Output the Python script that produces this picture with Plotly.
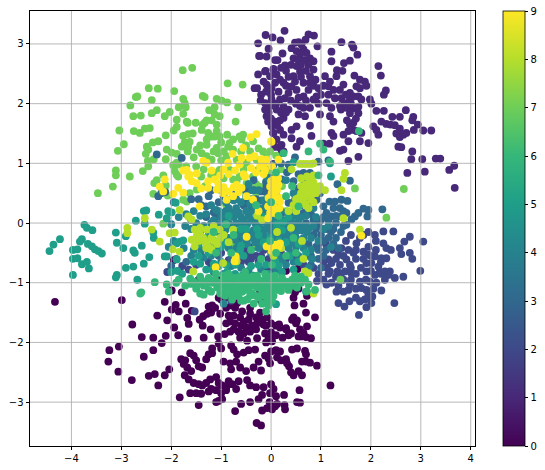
import plotly.graph_objects as go

X_TICKS = [-4, -3, -2, -1, 0, 1, 2, 3, 4]
Y_TICKS = [-3, -2, -1, 0, 1, 2, 3]
C_TICKS = [0, 1, 2, 3, 4, 5, 6, 7, 8, 9]
VIRIDIS10 = ["#440154", "#482878", "#3e4989", "#31688e", "#26828e", "#1f9e89", "#35b779", "#6ece58", "#b5de2b", "#fde725"]

CLASS_0 = [(-4.33,-1.32),(-2.99,-1.29),(-2.78,-1.7),(-2.59,-1.91),(-2.36,-1.92),(-2.11,-1.89),(-2.19,-2.01),(-3.24,-2.13),(-3.05,-2.07),(-3.26,-2.32),(-2.55,-2.24),(-2.36,-2.13),(-3.06,-2.49),(-2.79,-2.63),(-2.45,-2.56),(-2.33,-2.53),(-2.26,-2.72),(-2.13,-2.55),(-2.04,-2.45),(-1.83,-2.92),(-1.99,-1.13),(-1.79,-1.16),(-2.13,-1.32),(-1.91,-1.37),(-1.71,-1.35),(-2.28,-1.55),(-2.08,-1.63),(-1.99,-1.45),(-1.85,-1.48),(-1.68,-1.59),(-1.65,-1.69),(-1.94,-1.75),(-1.86,-1.88),(-1.67,-1.94),(-1.59,-1.47),(-1.43,-1.62),(-1.36,-1.56),(-1.37,-1.72),(-1.21,-1.78),(-1.35,-1.92),(-1.06,-1.9),(-0.93,-1.86),
(-1.25,-1.4),(-1.18,-1.38),(-1.12,-1.42),(-1.2,-1.5),(-1.28,-1.52),(-1.02,-1.52),(-1.0,-1.28),(-0.9,-1.24),(-0.9,-1.42),(-0.8,-1.38),(-0.72,-1.42),(-0.68,-1.34),(-0.85,-1.55),(-0.82,-1.65),(-0.9,-1.68),(-0.75,-1.55),(-0.72,-1.68),(-0.62,-1.58),(-0.6,-1.72),(-0.55,-1.65),(-0.5,-1.75),(-0.45,-1.62),(-0.42,-1.52),(-0.38,-1.72),(-0.3,-1.58),(-0.28,-1.68),(-0.22,-1.5),(-0.18,-1.62),(-0.15,-1.7),(-0.08,-1.58),(-0.65,-1.82),(-0.55,-1.85),(-0.42,-1.82),(-0.3,-1.78),(-0.75,-1.78),(-0.82,-1.82),(-0.12,-1.85),(-0.05,-1.92),(0.0,-1.83),(0.1,-1.72),(0.18,-1.75),(0.3,-1.78),(0.42,-1.62),(0.5,-1.68),(0.58,-1.78),(0.72,-1.73),(-0.62,-1.92),(-0.48,-1.97),(-0.28,-1.93),(-0.1,-2.0),(0.02,-1.98),(-0.02,-1.9),
(-1.62,-2.18),(-1.55,-2.22),(-1.5,-2.3),(-1.45,-2.4),(-1.38,-2.42),(-1.72,-2.3),(-1.8,-2.28),(-1.75,-2.36),(-1.68,-2.42),(-1.6,-2.48),(-1.3,-2.28),(-1.25,-2.2),(-1.18,-2.18),(-1.18,-2.1),(-1.05,-2.02),(-1.0,-2.1),(-0.8,-2.05),(-0.75,-2.12),(-0.68,-2.2),(-0.55,-2.17),(-0.45,-2.13),(-0.32,-2.12),(-0.12,-2.22),(-0.95,-2.32),(-0.82,-2.35),(-0.8,-2.45),(-0.7,-2.32),(-0.62,-2.42),(-0.5,-2.48),(-0.35,-2.42),(-0.25,-2.32),(-0.2,-2.47),(-0.05,-2.27),(-0.02,-2.35),(0.1,-2.13),(0.12,-2.25),(0.2,-2.3),(0.18,-2.15),(0.3,-2.28),(0.42,-2.12),(0.52,-2.1),(0.68,-2.14),(0.7,-2.2),(0.7,-2.32),(0.78,-2.34),(0.92,-2.39),(0.0,-2.15),(0.32,-2.35),(0.36,-2.4),(0.4,-2.5),(0.45,-2.55),(0.55,-2.48),(0.62,-2.55),(0.62,-2.32),
(-1.73,-2.55),(-1.65,-2.62),(-1.55,-2.68),(-1.45,-2.7),(-1.38,-2.72),(-1.3,-2.68),(-1.22,-2.62),(-1.1,-2.58),(-1.05,-2.68),(-0.98,-2.72),(-0.9,-2.75),(-0.85,-2.65),(-0.78,-2.7),(-0.65,-2.65),(-0.48,-2.63),(-0.42,-2.72),(-0.3,-2.75),(-1.2,-2.78),(-1.1,-2.8),(-1.0,-2.85),(-0.9,-2.8),(-0.7,-2.78),(-1.62,-2.85),(-1.5,-2.85),(-1.4,-2.86),(-1.25,-2.82),(-1.05,-2.98),(-0.98,-2.95),(-1.1,-3.0),(-0.42,-3.0),(-0.25,-2.95),(-0.18,-2.88),(-0.02,-2.85),(0.0,-2.7),(0.05,-2.78),(0.1,-2.9),(-0.15,-2.75),(-1.45,-3.05),(-0.6,-3.03),(-0.72,-3.15),(-0.18,-3.14),(-0.08,-3.1),(0.02,-3.12),(-0.03,-3.0),(0.08,-3.07),(0.12,-3.03),(0.27,-3.05),(0.28,-3.12),(0.52,-3.0),(0.58,-3.01),(0.57,-2.8),(1.19,-2.72),(0.26,-2.88),(-0.29,-3.35),(-0.2,-3.39),
(0.0,-1.68),(0.16,-1.7),(0.3,-1.76),(0.45,-1.58),(0.52,-1.63),(-0.1,-1.72),(0.35,-1.88),(0.1,-1.88),(0.23,-1.92),(0.55,-1.9),(0.4,-1.85),(0.6,-1.9),(0.7,-1.91),(0.8,-1.93),(0.65,-1.84),(0.72,-1.22),(0.55,-1.1),(0.65,-1.35),(0.48,-1.16),(0.45,-1.25),(0.47,-1.38),(0.7,-1.5),(0.88,-1.58),(0.53,-0.77),(0.3,-0.8),(0.02,-0.95),(-0.2,-1.3),(-0.25,-1.2),(-0.3,-0.98),(-1.05,-1.25),(-0.58,-1.48),(-0.42,-1.42),(-1.1,-0.93),(-1.45,-0.95),(-1.95,-0.62)]

CLASS_1 = [(0.27,3.22),(-0.11,3.15),(0.03,3.11),(0.19,3.06),(0.75,3.16),(0.86,3.14),(0.69,3.07),(1.41,3.03),(1.62,2.99),(1.65,2.94),(0.93,2.96),(1.21,2.87),(1.73,2.82),(1.21,2.71),(1.58,2.72),(1.46,2.68),(2.15,2.63),(2.2,2.47),(1.32,2.56),(1.43,2.55),(1.31,2.46),(1.67,2.47),(1.78,2.4),(1.88,2.37),(1.91,2.3),(2.3,2.22),(2.26,2.15),(1.98,2.07),(2.01,2.0),(2.11,1.88),(2.26,1.88),(2.7,1.89),(2.43,1.78),(2.58,1.78),(2.85,1.78),(2.83,1.72),(2.21,1.7),(2.31,1.66),(2.39,1.65),(2.48,1.64),(2.94,1.65),(2.86,1.56),(3.05,1.55),(3.21,1.55),(2.58,1.58),(2.71,1.51),(2.51,1.5),(2.58,1.44),(2.65,1.48),(2.55,1.28),(2.61,1.27),(2.83,1.2),(2.81,1.07),(3.03,1.07),(3.3,1.08),(3.39,1.08),(3.67,0.96),(3.57,0.89),(2.73,0.84),(3.08,0.86),(3.68,0.59),
(-0.26,3.01),(-0.24,2.8),(-0.26,2.49),(-0.11,2.55),(0.05,2.58),(-0.33,2.26),(-0.28,2.26),(-0.21,2.05),
(0.41,2.93),(0.48,3.02),(0.55,3.03),(0.61,2.99),(0.51,2.88),(0.65,2.91),(0.58,2.82),(0.71,2.85),(0.45,2.76),(0.55,2.73),(0.68,2.73),(0.78,2.76),(0.85,2.71),(0.75,2.65),(-0.05,2.92),(-0.22,2.8),(-0.09,2.79),(0.08,2.73),(0.23,2.84),(0.13,2.73),(0.28,2.64),(-0.12,2.54),(0.05,2.57),(-0.02,2.46),(0.11,2.49),(0.18,2.4),(0.25,2.35),(-0.15,2.37),(-0.09,2.32),(0.08,2.35),(0.01,2.26),(0.51,2.63),(0.58,2.54),(0.45,2.46),(0.48,2.37),(0.41,2.29),(0.51,2.23),(0.35,2.18),(0.28,2.09),(0.18,2.07),(0.85,2.57),(0.78,2.46),(0.89,2.4),(0.78,2.35),(0.95,2.26),(0.75,2.23),(0.91,2.12),(0.85,2.07),(0.65,2.12),
(1.08,2.46),(1.18,2.37),(1.15,2.29),(1.25,2.23),(1.38,2.23),(1.45,2.32),(1.11,2.01),(1.28,2.09),(1.41,2.09),(1.48,2.01),(1.58,2.07),(1.65,2.12),(1.75,2.12),(1.81,2.07),(1.71,2.29),(1.78,2.26),(1.58,2.18),(1.65,1.92),(1.58,1.84),(1.75,1.84),(1.21,1.93),(1.38,1.96),(1.51,1.93),(1.18,1.79),(1.25,1.7),(0.98,1.82),(0.58,1.96),(0.65,1.93),(0.78,1.93),(0.55,1.82),(0.68,1.79),(0.41,1.56),(0.51,1.62),(0.78,1.63),(0.81,1.46),(1.58,1.65),(1.65,1.68),(1.55,1.54),(1.45,1.48),(1.65,1.56),(1.71,1.54),(1.81,1.51),(1.21,1.51),(1.25,1.46),(2.05,1.62),(2.15,1.48),(2.11,1.56),(1.05,1.33),(1.17,1.33),(0.58,1.37),(0.51,1.28),(1.55,1.37),(1.45,1.23),(1.78,1.37),(1.95,1.34),(1.75,1.11),(1.55,1.04),(1.38,1.21),
(0.08,1.28),(0.18,1.26),(0.21,1.17),(0.25,1.2),(0.41,1.42),(0.25,1.48),(0.05,1.51),(0.18,1.56),(0.08,1.7),(0.25,1.76),(-0.02,1.96),(0.11,1.9),(-0.12,2.01),(0.01,2.07),(-0.09,1.79),(-0.06,1.7),(0.01,1.62),(0.04,1.51),(0.11,1.4),(0.07,1.28),(0.21,1.31),(0.05,0.99),(0.15,2.2),(0.0,2.15),(-0.1,2.2),(0.3,2.3),(-0.2,2.15),(0.1,2.0),(0.25,1.95),(0.35,1.9),(-0.05,1.85),(0.2,1.85),(0.0,1.75),(-0.12,1.9),(0.3,1.85),(0.4,2.05),(0.5,2.0),(0.55,2.1),(0.7,2.05),(0.95,2.0),(1.0,2.15),(1.05,2.3),(0.85,2.3),(0.65,2.35),(0.6,2.45),(0.35,2.45),(0.3,2.55),(0.2,2.6),(0.4,2.65),(0.6,2.65),(0.7,2.55),(1.5,2.15),(1.4,1.9),(1.6,2.0),(1.75,1.95),(0.12,1.64),(0.18,1.72),(1.52,1.72),(1.7,1.75),(1.15,2.15),(0.93,0.53)]

CLASS_2 = [(3.05,-0.31),(2.78,-0.23),(2.67,-0.31),(2.58,-0.42),(2.61,-0.52),(2.78,-0.5),(2.83,-0.6),(2.99,-0.8),(2.65,-0.9),(2.48,-0.92),(2.38,-0.81),(2.3,-0.85),(2.18,-0.82),(2.47,-1.34),(2.21,-1.13),(1.76,-1.54),(1.91,-1.41),(1.47,-1.4),(1.35,-1.34),(1.57,-1.31),(1.78,-1.31),(1.98,-1.26),(2.03,-1.23),(2.01,-1.34),(1.88,-1.28),(1.18,-0.81),(1.33,-0.81),(2.45,-0.14),(2.25,-0.14),(2.08,-0.2),(2.25,-0.34),(2.31,-0.42),(2.4,-0.45),
(1.78,-0.25),(1.71,-0.34),(1.85,-0.48),(1.95,-0.53),(2.08,-0.56),(2.21,-0.59),(2.31,-0.59),(1.91,-0.67),(2.01,-0.67),(2.15,-0.73),(1.91,-0.81),(2.08,-0.87),(2.28,-0.81),(2.35,-0.87),(2.28,-0.95),(2.11,-1.0),(1.98,-0.98),(1.78,-0.98),(1.81,-1.09),(1.91,-1.12),(1.95,-1.2),(1.55,-1.12),(1.45,-1.15),(1.31,-1.15),(1.11,-1.03),(1.21,-1.0),(1.58,-1.03),(1.38,-0.7),(1.51,-0.61),(1.58,-0.7),(1.48,-0.81),(1.61,-0.84),(1.35,-0.53),(1.25,-0.45),(1.41,-0.42),(1.15,-0.61),(1.21,-0.67),(1.7,-0.6),(1.95,-0.4),(2.1,-0.3),(1.6,-0.95),(1.45,-0.95),(1.3,-0.9),(1.7,-1.1),(2.0,-0.8),(2.2,-0.85),(2.0,-0.55),(1.55,-0.45),(1.65,-0.5),(1.45,-0.55),(1.5,-0.3),(1.6,-0.2),(1.85,-0.2),(1.95,-0.15),(2.2,-0.65),(1.8,-0.75),(1.9,-0.95),(1.05,-0.95),(0.92,-0.97),(0.95,-0.85),(1.12,-0.75),
(-0.42,-0.53),(-0.55,-0.5),(-0.45,-0.65),(-0.3,-0.55),(-0.25,-0.65),(-0.5,-0.35),(-0.35,-0.4),(-0.15,-0.45),(-0.6,-0.65),(-1.65,-0.78),(-1.5,-0.7),(-1.25,-0.65),(-0.8,-1.3),(-1.53,-1.48),(0.2,-0.5),(0.05,-0.7),(0.3,-0.6),(-0.05,-0.6),(0.4,-0.3),(-2.08,-0.82),(-1.85,-0.8),(-1.78,-0.72),(-0.35,-0.22),(0.05,-0.22),(0.6,-0.12),(0.5,-0.55),(0.75,-0.55),(0.65,-0.7),
(-0.4,-0.6),(-0.5,-0.6),(-0.2,-0.55),(-0.05,-0.42),(-0.48,-0.45),(-0.62,-0.5),(-0.7,-0.35),(-1.0,-0.5),(-1.4,-0.55),(-1.2,-0.7),(-0.85,-0.62),(-0.1,-0.78),(0.0,-0.82),(0.85,-0.75),(1.05,-0.65),(1.1,-0.35),(0.95,-0.35),(1.15,-0.85),(1.3,-0.6),(1.7,-0.85),(1.7,-0.45),(1.85,-0.6),(2.1,-0.45),(1.35,-1.05),(1.6,-0.75),(1.4,-0.85),(2.05,-1.1),(1.7,-1.25)]

CLASS_3 = [(2.23,0.23),(1.93,0.11),(1.95,0.22),(1.85,0.24),(1.75,0.17),(1.68,0.11),(1.33,0.65),(1.58,0.71),(1.17,0.36),(1.28,0.36),(1.41,0.39),(1.53,0.37),(1.25,0.25),(1.38,0.25),(1.51,0.17),(1.61,0.06),(1.38,0.11),(1.21,0.11),(1.11,0.17),(1.51,-0.03),(1.05,0.28),(0.91,0.39),(0.98,0.5),(0.78,0.28),(0.65,0.17),(0.45,0.17),(0.65,0.84),(0.78,0.84),(0.65,0.73),(0.45,0.7),(0.38,0.89),(0.58,0.5),(0.48,0.39),(0.35,0.34),(0.21,0.17),(0.05,0.7),(0.21,0.73),(-0.02,0.75),(-0.09,0.61),(-0.19,0.53),(-0.02,0.45),(0.11,0.28),(1.3,0.0),(1.1,-0.1),(1.0,-0.2),(0.9,-0.1),(0.7,0.0),(0.85,0.05),(1.0,0.05),(1.2,-0.15),(1.05,-0.3),(0.9,-0.4),(0.75,-0.35),(1.1,-0.45),(0.95,-0.6),(0.8,-0.7),(1.0,-0.75),(1.45,-0.05),(1.3,-0.25),(-2.29,1.15),(-1.79,1.09),(-2.26,0.45),(-1.95,0.35),(-1.6,0.4),(-1.45,0.4),(-1.4,0.3),(-1.2,0.55),(-1.0,0.55),(-0.8,0.4),(-0.9,0.2),(-0.7,0.5),(-0.5,0.55),(-0.3,0.4),(-0.4,0.25),(-0.1,0.3),(-1.1,0.1),(-1.3,0.1),(-1.6,0.05),(-1.9,-0.6),(-1.7,-0.65),(-2.0,-0.72),(-1.15,-0.3),(-1.05,-0.55),(-0.8,-0.6),(-0.65,-0.28),(0.2,1.0),(0.35,0.98),(0.05,0.98),(0.48,1.1),(0.95,1.03),(1.15,1.05),(0.55,0.58),(-0.1,0.68),(-0.35,0.72),(-0.55,0.3),(-1.25,0.45),(-1.05,0.35),(-2.12,0.52),(-2.2,0.5),
(1.15,0.05),(1.3,0.12),(1.45,0.2),(1.05,0.1),(0.95,-0.02),(0.8,0.15),(0.6,0.3),(0.7,0.42),(1.25,-0.1),(1.4,-0.15),(1.15,-0.25),(0.95,-0.45),(0.8,-0.55),(1.05,-0.55),(0.85,-0.2),(0.5,-0.1),(-0.65,0.58),(-0.35,0.55),(-0.5,0.38),(-0.2,0.38),(0.12,0.72),(0.32,0.85),(0.55,0.82),(-1.3,0.28),(-1.15,0.18),(-0.95,0.45),(-0.65,0.15),(-0.1,0.52),(1.25,-0.35),(1.35,-0.42)]

CLASS_4 = [(-0.9,0.35),(-0.85,0.25),(-0.7,0.25),(-0.6,0.35),(-0.4,0.4),(-0.25,0.55),(-0.2,0.25),(-0.3,0.1),(-0.45,0.12),(-0.6,0.1),(-0.75,0.1),(-0.92,0.05),(-1.05,-0.02),(-1.2,0.0),(-1.35,-0.05),(-1.5,0.0),(-1.42,-0.15),(-1.25,-0.15),(-1.08,-0.15),(-0.92,-0.12),(-0.78,-0.05),(-0.62,-0.02),(-0.48,-0.02),(-0.32,0.0),(-0.18,0.02),(-0.05,0.1),(0.1,0.08),(0.25,0.05),(0.4,0.05),(0.55,0.02),(0.7,-0.05),(0.85,-0.05),(-0.02,-0.05),(0.12,-0.1),(0.28,-0.08),(0.42,-0.1),(0.58,-0.12),(0.72,-0.15),(-0.2,-0.12),(-0.35,-0.12),(-0.52,-0.14),(-0.68,-0.15),(-0.85,-0.25),(-1.0,-0.28),(-0.72,-0.28),(-0.55,-0.25),(-0.4,-0.25),(-0.25,-0.27),(-0.08,-0.25),(0.08,-0.25),(0.22,-0.24),(0.35,-0.22),(0.5,-0.25),(0.65,-0.25),(0.8,-0.25),(0.95,-0.3),(1.05,-0.1),(1.15,-0.05),(0.9,0.1),(0.7,0.12),(0.5,0.12),(-0.1,-0.4),(0.05,-0.38),(0.2,-0.38),(0.35,-0.42),(0.5,-0.4),(0.65,-0.42),(0.8,-0.45),(-0.25,-0.42),(-0.7,-0.42),(-0.85,-0.42),(-1.05,-0.42),(-1.25,-0.4),(-1.4,-0.45),(-1.55,-0.45),(-1.35,-0.58),(-1.2,-0.55),(-1.0,-0.65),(-0.8,-0.72),(-0.6,-0.75),(-0.45,-0.8),(-0.2,-0.78),(0.0,-0.5),(0.15,-0.55),(0.1,-0.8),(0.3,-0.7),(0.45,-0.65),(0.82,-0.6),(0.75,-0.75),(-0.5,0.45),(-0.62,0.55),(-0.15,0.18),(-0.05,0.22),(0.02,0.05),(0.18,0.22),(0.32,0.18),(-1.2,0.3),(-1.05,0.2),(-1.55,0.2),(-1.7,0.15),(-1.85,0.1),(-1.72,-0.05),(-1.6,-0.1),(-2.0,-0.02),(-1.75,-0.42),(-1.6,-0.55),(-1.95,-0.3),(-2.05,-0.4),(0.0,0.6),(-0.05,0.75),(0.45,0.5),(0.3,0.72),(-0.75,0.38),(-0.38,0.55),(-0.92,-0.1),(-0.45,0.65),(1.2,-0.4),(0.85,0.25),(-0.95,-0.85),(-1.15,-0.82),(-0.95,-1.35),
(-1.15,0.05),(-1.0,0.1),(-0.85,0.0),(-0.7,0.0),(-0.55,0.05),(-0.4,0.05),(-0.25,-0.05),(-0.12,-0.1),(0.05,0.0),(0.18,-0.02),(0.32,-0.02),(0.48,-0.02),(0.62,-0.05),(-1.0,-0.1),(-0.75,-0.12),(-0.6,-0.2),(-0.45,-0.18),(-0.3,-0.18),(-0.15,-0.2),(0.0,-0.15),(0.15,-0.18),(0.3,-0.15),(0.48,-0.18),(-0.65,0.18),(-0.5,0.2),(-0.35,0.2),(-0.8,0.18),(-0.95,0.18),(-1.1,0.22),(-0.9,-0.35),(-0.65,-0.35),(-0.48,-0.35),(-0.32,-0.32),(-0.18,-0.35),(0.1,-0.32),(0.25,-0.3),(0.4,-0.33),(0.6,-0.32),(0.75,-0.1),(0.6,0.1),(-0.2,0.12),(0.4,-0.5),(0.55,-0.55),(0.22,-0.62),(-1.3,0.15),(-1.42,0.12),(-0.1,0.02),(-0.42,0.32),(-0.7,0.4),(-0.15,0.38)]

CLASS_5 = [(-4.44,-0.47),(-4.36,-0.36),(-4.23,-0.27),(-3.97,-0.45),(-3.88,-0.44),(-3.97,-0.6),(-3.88,-0.59),(-3.97,-0.87),(-3.79,-0.27),(-3.83,-0.31),(-3.67,-0.35),(-3.59,-0.39),(-3.53,-0.44),(-3.46,-0.47),(-3.39,-0.51),(-3.79,-0.69),(-3.69,-0.65),(-3.65,-0.76),(-3.09,-0.87),(-3.11,-0.91),(-3.09,-0.33),(-2.96,-0.42),(-2.76,-0.46),(-2.73,-0.5),(-2.59,-0.38),(-2.44,-0.57),(-2.55,-0.68),(-2.76,-0.73),(-2.91,-0.75),(-2.68,-0.95),(-3.11,-0.16),(-2.91,-0.22),(-2.36,-0.16),(-2.35,-0.25),(-3.74,-0.03),(-3.69,-0.08),(-3.58,-0.12),(-2.71,0.04),(-2.53,-0.01),(-2.55,0.2),(-2.5,0.21),(-2.25,0.14),(-2.09,0.08),(-2.06,0.2),(-1.99,0.18),(-1.91,0.34),(-2.09,-0.56),(-2.13,-0.56),(-1.89,-0.61),(-1.89,-0.34),(-1.83,-0.31),(-1.76,-0.29),(-2.0,-0.82),(-1.88,-0.8),(-1.78,-0.85),(-1.55,-0.65),(-1.42,-0.68),(-1.3,-0.78),(-1.18,-0.78),(-1.05,-0.72),(-0.88,-0.82),(-0.72,-0.85),(-0.58,-0.88),(-0.35,-0.88),(-0.1,-0.7),(0.08,-0.62),(0.22,-0.82),(0.45,-0.78),(-0.55,-0.55),(-0.7,-0.55),(-1.1,-0.35),(-1.3,-0.25),(-0.92,-0.32),(-0.6,-0.38),(-0.15,-0.32),(0.15,-0.3),(0.3,-0.32),(0.55,-0.35),(0.7,-0.5),(0.25,0.02),(-0.28,-0.1),(-0.6,-0.1),(0.12,-0.02),(1.18,1.0),(1.2,0.78),(0.45,1.02),(0.1,-1.36),(0.7,-1.15),
(-1.45,-0.55),(-1.15,-0.68),(-0.9,-0.7),(-0.72,-0.7),(-0.4,-0.72),(-0.25,-0.7),(-0.05,-0.85),(0.15,-0.72),(0.38,-0.55),(0.55,-0.65),(-0.62,-0.45),(-0.25,-0.2),(-0.02,-0.25),(0.22,-0.12),(-1.0,-0.4),(-1.25,-0.5),(-1.45,-0.35),(-0.5,-0.1),(-0.85,0.12),(-0.15,0.1),(0.35,0.1)]

CLASS_6 = [(-2.6,-1.16),(-2.62,-1.18),(-2.33,-0.99),(-2.09,-1.03),(-2.05,-1.15),(-1.9,-1.0),(-1.85,-0.95),(-1.72,-1.05),(-1.6,-1.02),(-1.5,-1.1),(-1.42,-1.18),(-1.35,-1.05),(-1.25,-1.12),(-1.18,-1.0),(-1.08,-1.08),(-1.02,-1.18),(-0.98,-0.98),(-0.92,-1.08),(-0.88,-0.95),(-0.8,-1.02),(-0.8,-1.18),(-0.72,-0.98),(-0.7,-1.1),(-0.65,-1.22),(-0.6,-1.02),(-0.55,-0.95),(-0.5,-1.12),(-0.48,-1.28),(-0.42,-1.02),(-0.38,-1.18),(-0.32,-0.95),(-0.28,-1.08),(-0.25,-1.25),(-0.2,-1.0),(-0.18,-1.15),(-0.12,-0.95),(-0.1,-1.08),(-0.08,-1.25),(-0.05,-1.38),(-0.02,-1.02),(0.02,-1.12),(-0.6,-1.3),(-0.35,-1.35),(-0.1,-1.48),(-1.42,-0.9),(-1.25,-0.92),(-1.1,-0.85),(-0.95,-0.88),(-0.78,-0.92),(-0.62,-0.9),(-0.45,-0.92),(-0.28,-0.88),(-0.12,-0.85),(0.0,-0.9),(-0.78,-1.28),(-1.55,-0.98),(-0.72,-1.2),(-0.92,-1.22),
(0.08,-0.88),(0.12,-0.98),(0.1,-1.08),(0.18,-1.02),(0.22,-0.92),(0.3,-0.98),(0.32,-1.06),(0.42,-0.95),(0.45,-1.05),(0.5,-0.98),(0.6,-1.0),(0.68,-0.95),(0.75,-1.03),(0.48,-0.88),(0.55,-0.92),(0.0,-1.2),(0.05,-1.22),(-0.05,-1.3),(0.72,-1.14),(0.35,-1.12),(0.2,-1.14),(0.88,-1.12),(0.02,-0.7),(0.1,-0.5),(0.3,-0.55),(-0.2,-0.6),(-0.4,-0.45),(0.5,-0.5),(-0.8,-0.5),(-1.1,-0.5),(-1.15,-0.15),(-0.9,-0.02),(-0.75,-0.2),(-0.3,0.3),(0.0,0.35),(0.15,0.12),(0.3,0.45),(0.1,0.85),(0.42,0.62),(0.55,0.28),(0.25,1.17),(0.75,1.2),(1.05,1.23),(0.98,1.33),(1.76,1.54),(0.95,0.8),(1.18,1.03),(-0.02,-0.3),(0.45,-0.25),
(-1.62,-0.93),(-1.48,-1.02),(-1.38,-0.97),(-1.3,-1.02),(-1.2,-1.15),(-1.12,-0.95),(-1.03,-1.03),(-0.95,-1.15),(-0.85,-1.1),(-0.75,-1.05),(-0.65,-1.05),(-0.58,-1.15),(-0.52,-1.02),(-0.45,-1.1),(-0.35,-1.05),(-0.3,-1.22),(-0.22,-1.08),(-0.15,-1.22),(-0.15,-1.02),(-0.05,-1.15),(-0.02,-0.92),(0.05,-1.02),(0.15,-1.12),(0.25,-1.05),(0.38,-1.0),(0.52,-1.08),(0.6,-0.9),(-0.62,-1.12),(-0.42,-1.22),(-0.55,-1.3),(-0.18,-1.35),(0.02,-1.3),(-0.88,-1.05),(-0.95,-0.95),(-1.35,-1.2),(-0.7,-0.92),(-0.38,-0.9),(-0.52,-0.82),(-0.25,-0.95),(-0.85,-0.85)]

CLASS_7 = [(-1.58,2.6),(-1.77,2.56),(-0.87,2.34),(-0.57,2.32),(-2.45,2.26),(-2.27,2.25),(-1.94,2.21),(-2.71,2.11),(-2.68,2.12),(-2.39,2.06),(-1.76,2.08),(-1.73,2.01),(-1.71,1.94),(-1.37,2.13),(-1.33,2.11),(-1.09,2.08),(-0.99,2.05),(-0.88,2.02),(-0.66,1.94),(-2.82,1.97),(-1.85,1.94),(-1.24,1.89),(-1.13,1.94),(-1.13,1.82),(-1.03,1.79),(-2.29,1.89),(-2.39,1.84),(-2.03,1.86),(-2.13,1.79),(-2.76,1.79),(-2.61,1.8),(-1.76,1.83),(-1.89,1.73),(-1.69,1.7),(-1.67,1.68),(-0.71,1.7),(-1.51,1.68),(-3.04,1.55),(-2.75,1.54),(-2.63,1.51),(-2.53,1.58),(-2.43,1.59),(-1.89,1.61),(-1.95,1.55),(-2.11,1.47),(-1.37,1.65),(-1.29,1.72),(-1.19,1.72),(-1.09,1.65),(-1.09,1.54),(-1.19,1.45),(-1.29,1.4),(-1.39,1.56),(-1.26,1.51),(-1.33,1.68),(-1.13,1.45),(-1.29,1.31),(-1.76,1.46),(-1.66,1.49),(-1.57,1.5),(-1.63,1.36),(-1.73,1.35),(-1.66,1.28),(-1.79,1.28),(-1.67,1.2),(-2.95,1.32),(-3.07,1.21),(-2.49,1.28),(-2.37,1.35),(-2.26,1.37),(-2.46,1.23),(-2.51,1.16),(-2.47,1.04),(-2.35,1.07),(-2.46,0.95),(-3.11,0.88),(-3.11,0.8),(-2.83,0.78),(-2.57,0.87),(-3.17,0.61),(-3.47,0.5),(-2.16,0.8),(-2.29,0.72),(-2.34,0.67),(-2.11,0.63),(-2.36,0.49),(-2.07,0.46),(-2.09,1.23),(-1.99,1.18),(-1.89,1.16),(-2.11,1.07),(-1.89,1.01),(-1.96,0.97),(-1.85,0.98),(-1.93,0.87),(-1.89,0.81),(-1.86,0.78),(-1.49,1.23),(-1.39,1.17),(-1.29,1.12),(-1.19,1.06),(-1.09,1.26),(-1.06,1.17),(-1.03,1.45),(-0.88,1.48),(-0.76,1.4),(-0.83,1.34),(-0.63,1.45),(-0.56,1.48),(-0.59,1.4),(-0.36,1.37),(-0.16,1.2),(-0.86,1.28),(-0.76,1.23),(-0.89,1.12),(-0.69,1.06),(-1.03,0.89),(-0.83,0.89),(-1.09,0.84),(-0.49,1.01),(-0.29,1.06),(-0.63,0.78),(-0.69,0.7),(-0.36,0.78),(-0.23,0.61),(-0.49,0.67),(-0.76,0.73),(-1.76,0.39),(-1.69,0.36),(-1.63,0.5),(-2.16,-0.01),(-1.49,0.56),(2.66,0.57),(2.31,0.09),(1.39,-0.95),(0.2,0.9),(0.0,0.8),(-0.1,0.7),(0.1,0.5),(-0.3,0.5),(-0.1,0.4),(0.3,0.2),(-0.15,1.0),(-0.02,1.2),(0.1,1.13),(-0.05,0.9),(-1.2,0.8),(-1.4,0.78),(-0.95,0.75),(-0.55,0.9),(-0.25,0.9),(-0.9,0.3),(-0.3,-0.35),(0.0,-0.15),(0.25,-0.15),(-0.75,-0.4),(0.22,0.62),(1.68,0.58),(-1.32,0.62),(-0.42,1.2),
(-1.55,1.1),(-1.0,1.05),(-0.95,1.2),(-0.6,1.2),(-0.5,1.3),(-0.25,1.25),(-1.7,0.95),(-1.5,0.95),(-1.35,0.9),(-0.3,0.65),(-0.15,0.55),(-0.45,0.55),(-1.0,1.35),(-1.42,1.3),(-1.15,1.2),(-0.1,1.1)]

CLASS_8 = [(0.58,0.99),(0.65,0.99),(0.72,0.99),(0.8,0.99),(0.85,1.0),(0.41,0.9),(0.85,0.8),(0.78,0.73),(0.85,0.68),(0.75,0.63),(0.9,0.6),(0.7,0.55),(0.8,0.5),(0.6,0.5),(0.65,0.42),(0.5,0.4),(0.45,0.3),(0.55,0.3),(0.7,0.3),(0.85,0.35),(0.75,0.25),(0.95,0.55),(1.08,0.55),(0.6,0.62),(0.8,0.4),(0.5,0.2),(0.35,0.2),(0.72,0.78),(0.55,0.42),(0.98,0.62),(-2.88,-0.08),(-2.88,-0.17),(-2.53,0.08),(-1.83,0.22),(-1.66,0.11),(-1.59,0.06),(-2.03,-0.17),(-1.93,-0.16),(-2.39,-0.11),(-2.23,-0.31),(-1.97,-0.44),(-1.83,-0.48),(-1.56,-0.81),(-1.53,-0.11),(-1.43,-0.17),(-1.29,-0.11),(-1.49,-0.22),(-1.36,-0.25),(-1.16,-0.17),(-1.03,-0.11),(-0.76,-0.11),(-1.59,-0.28),(-1.53,-0.39),(-1.29,-0.36),(-1.23,-0.42),(-1.19,-0.45),(-0.96,-0.67),(-0.69,-0.64),(0.85,-1.18),(0.68,-0.81),(0.75,-0.84),(1.45,0.08),(1.78,-0.11),(1.48,0.84),(1.45,0.74),(1.41,0.55),(-1.02,-0.25),(-0.85,-0.32),(-1.15,-0.3),(0.12,-0.15),(-0.28,0.12),(0.02,0.2),(0.2,-0.42),(0.65,-0.6),(0.4,-0.08),(-0.18,0.05),
(0.7,0.65),(0.82,0.6),(0.65,0.55),(0.72,0.48),(0.58,0.38),(0.9,0.5),(0.6,0.75),(0.68,0.32),(-1.42,-0.08),(-1.33,-0.3),(-1.45,-0.3),(-1.2,-0.25),(-1.08,-0.35),(-1.15,-0.05),(-0.95,-0.2),(-1.3,-0.42),(0.62,-0.3),(0.05,-0.55)]

CLASS_9 = [(-0.29,1.49),(-0.41,1.44),(0.01,1.36),(-0.56,1.26),(-0.77,1.16),(-0.59,1.09),(-0.43,1.09),(-0.33,1.12),(-0.19,1.07),(-0.09,1.06),(-1.36,1.04),(-1.29,1.01),(-0.86,1.01),(-0.63,0.98),(-1.76,0.88),(-1.69,0.89),(-1.63,0.81),(-1.66,0.78),(-1.49,0.83),(-1.59,0.7),(-1.49,0.67),(-1.19,0.88),(-1.26,0.7),(-1.13,0.73),(-1.06,0.67),(-1.03,0.61),(-1.09,0.56),(-1.26,0.59),(-2.13,0.73),(-2.23,0.61),(-2.16,0.53),(-1.96,0.49),(-1.86,0.59),(-1.76,0.51),(-0.96,0.5),(-0.86,0.53),(-0.76,0.45),(-0.89,0.39),(-0.69,0.64),(-0.59,0.59),(-0.49,0.45),(-0.36,0.39),(-1.43,0.28),(-0.06,0.28),(0.04,0.17),(0.11,0.39),(-0.06,0.08),(0.17,0.25),(0.0,1.37),(-0.19,1.06),(-0.12,1.01),(-0.22,0.95),(-0.12,0.89),(0.15,1.06),(0.11,0.7),(-0.02,0.61),(0.08,0.55),(0.11,0.42),(0.18,0.42),(0.01,0.36),(0.08,0.25),(-0.02,0.17),(0.05,0.73),(0.15,0.64),(0.01,0.5),(-0.05,0.42),(0.18,0.36),(1.81,-0.21),(0.11,-0.36),(0.18,-0.34),(0.08,-0.45),(0.01,-0.47),(-0.49,-0.23),(-0.71,-0.56),(-0.73,-0.64),(-1.11,-0.74),(-0.83,-1.12),(-0.09,-0.39),(0.04,-0.36),(-0.95,0.9),(-0.55,0.82),(0.02,0.95),(-0.25,0.2),(-1.4,0.58),
(0.0,0.7),(0.12,0.55),(0.05,0.45),(0.02,0.62),(0.14,0.75),(0.05,0.28),(0.0,0.3),(0.1,-0.42),(0.15,-0.4),(-0.65,0.52),(-0.52,0.78),(-0.85,0.82),(-1.02,0.8),(-0.72,0.88),(-0.3,0.85),(-0.4,0.92),(-0.15,0.82),(-0.95,0.6),(-0.75,0.6),(0.12,0.15)]

CLASSES = [CLASS_0, CLASS_1, CLASS_2, CLASS_7, CLASS_3, CLASS_4, CLASS_5, CLASS_8, CLASS_9, CLASS_6]
LABELS = [0, 1, 2, 7, 3, 4, 5, 8, 9, 6]

xs, ys, cs = [], [], []
for lab, pts in zip(LABELS, CLASSES):
    for px, py in pts:
        xs.append(px)
        ys.append(py)
        cs.append(lab)

n = len(VIRIDIS10) - 1
scale = [[i / n, col] for i, col in enumerate(VIRIDIS10)]

fig = go.Figure(go.Scatter(
    x=xs, y=ys, mode="markers",
    marker=dict(
        size=7.8, color=cs, cmin=0, cmax=9, colorscale=scale, line=dict(width=0),
        colorbar=dict(
            x=1.0628, xanchor="left", y=0, yanchor="bottom", len=1, lenmode="fraction",
            thickness=22.4, thicknessmode="pixels", xpad=0, ypad=0,
            tickmode="array", tickvals=C_TICKS, ticks="outside", ticklen=3.5, tickwidth=0.8,
            tickcolor="black", outlinewidth=0.8, outlinecolor="black",
            tickfont=dict(family="DejaVu Sans", size=10, color="black"),
        ),
    ),
    hoverinfo="skip",
))

shapes = []
for t in X_TICKS:
    shapes.append(dict(type="line", xref="x", yref="paper", x0=t, x1=t, y0=0, y1=1,
                       layer="above", line=dict(color="#b0b0b0", width=0.9)))
for t in Y_TICKS:
    shapes.append(dict(type="line", xref="paper", yref="y", x0=0, x1=1, y0=t, y1=t,
                       layer="above", line=dict(color="#b0b0b0", width=0.9)))

axis = dict(
    showgrid=False, zeroline=False, showline=True, mirror=True, linecolor="black", linewidth=0.8,
    ticks="outside", ticklen=3.5, tickwidth=0.8, tickcolor="black",
    tickfont=dict(family="DejaVu Sans", size=10, color="black"), tickmode="array",
)
fig.update_layout(
    width=545, height=470, plot_bgcolor="white", paper_bgcolor="white", showlegend=False,
    margin=dict(l=29.5, r=69.7, t=11.3, b=23.7, pad=0, autoexpand=False), shapes=shapes,
    xaxis=dict(axis, range=[-4.83, 4.086], tickvals=X_TICKS),
    yaxis=dict(axis, range=[-3.735, 3.552], tickvals=Y_TICKS),
)
fig.write_html("out.html", config={"displayModeBar": False},
               post_script="document.body.style.margin='0';document.documentElement.style.overflow='hidden';")
